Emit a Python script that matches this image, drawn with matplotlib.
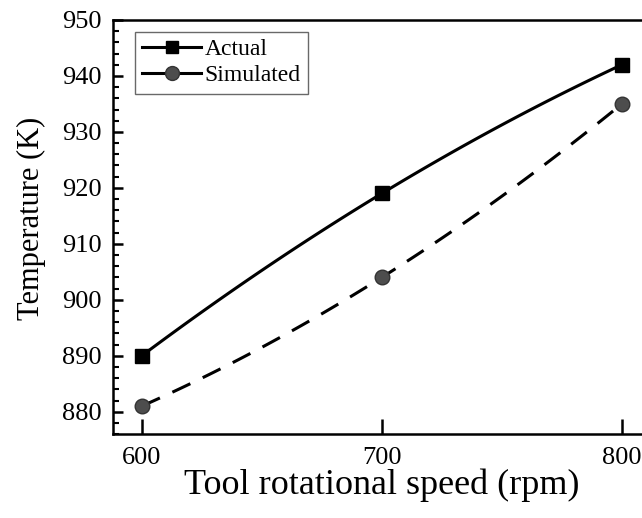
import numpy as np
import matplotlib
matplotlib.use('Agg')
import matplotlib.pyplot as plt
from matplotlib.ticker import MultipleLocator

speed = [600, 700, 800]
actual = [890, 919, 942]
simulated = [881, 904, 935]

plt.rcParams['font.family'] = ['Liberation Serif', 'DejaVu Serif']

fig = plt.figure(figsize=(6.42, 5.18), dpi=100)
ax = fig.add_axes([0.176, 0.162, 0.8374, 0.7994])


def smooth(x, y):
    # smooth curve through the three points (like the original spline line)
    c = np.polyfit(x, y, 2)
    xs = np.linspace(x[0], x[-1], 100)
    return xs, np.polyval(c, xs)


xs, ys = smooth(speed, actual)
ax.plot(xs, ys, color='black', linewidth=2.2)
xs, ys = smooth(speed, simulated)
ax.plot(xs, ys, color='black', linewidth=2.2, dashes=(6.5, 4.5))

ax.plot(speed, actual, linestyle='none', marker='s', markersize=9.5,
        color='black')
ax.plot(speed, simulated, linestyle='none', marker='o', markersize=10.5,
        markerfacecolor='#4d4d4d', markeredgecolor='#333333')

# legend proxies
ax.plot([], [], color='black', linewidth=2.2, marker='s', markersize=9,
        label='Actual')
ax.plot([], [], color='black', linewidth=2.2, marker='o', markersize=10,
        markerfacecolor='#4d4d4d', markeredgecolor='#333333', label='Simulated')
leg = ax.legend(loc='upper left', bbox_to_anchor=(0.041, 0.972), fontsize=17,
                frameon=True, fancybox=False, handlelength=2.5,
                handletextpad=0.15, borderpad=0.3, labelspacing=0.2,
                borderaxespad=0)
leg.get_frame().set_edgecolor('#444444')
leg.get_frame().set_linewidth(1.0)

ax.set_xlim(588, 812)
ax.set_ylim(876, 950)
ax.set_xticks(speed)
ax.yaxis.set_major_locator(MultipleLocator(10))
ax.yaxis.set_minor_locator(MultipleLocator(2))
ax.tick_params(axis='x', direction='in', length=11, width=1.8,
               labelsize=19, pad=9)
ax.tick_params(axis='y', which='major', direction='in', length=7, width=1.8,
               labelsize=19, pad=8)
ax.tick_params(axis='y', which='minor', direction='in', length=4, width=1.5)
ax.tick_params(top=False, right=False)

for s in ax.spines.values():
    s.set_linewidth(1.8)

ax.set_xlabel('Tool rotational speed (rpm)', fontsize=26, labelpad=0)
ax.set_ylabel('Temperature (K)', fontsize=22)
ax.yaxis.set_label_coords(-0.124, 0.522)

fig.savefig('out.png', dpi=100)
plt.close()
